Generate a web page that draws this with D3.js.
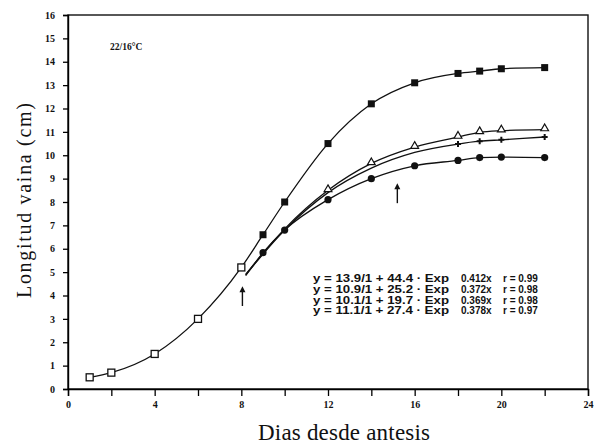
<!DOCTYPE html>
<html lang="es">
<head>
<meta charset="UTF-8">
<title>Longitud vaina</title>
<script src="https://d3js.org/d3.v7.min.js"></script>
<style>
  body { margin: 0; background: #fff; }
  svg { display: block; }
  .tick text { font-family: "Liberation Serif", serif; font-weight: bold; font-size: 10px; }
</style>
</head>
<body>
<svg id="chart" width="595" height="444"></svg>
<script>
// early shared points (open squares)
const earlyDays = [1, 2, 4, 6, 8];
const earlyLen = [0.5, 0.7, 1.5, 3.0, 5.2];

// filled squares
const sqDays = [9, 10, 12, 14, 16, 18, 19, 20, 22];
const sqLen = [6.6, 8.0, 10.5, 12.2, 13.1, 13.5, 13.6, 13.7, 13.75];

// filled circles (line starts just after day 8)
const circDays = [8.2, 9, 10, 12, 14, 16, 18, 19, 20, 22];
const circLen = [4.85, 5.83, 6.8, 8.1, 9.0, 9.55, 9.78, 9.9, 9.92, 9.9];

// open triangles
const triDays = [8.2, 10, 12, 14, 16, 18, 19, 20, 22];
const triLen = [4.9, 6.85, 8.5, 9.65, 10.35, 10.78, 10.98, 11.05, 11.1];

// small crosses
const crossDays = [8.2, 10, 12, 14, 16, 18, 19, 20, 22];
const crossLen = [4.88, 6.8, 8.4, 9.45, 10.12, 10.48, 10.6, 10.66, 10.78];

const arrowDays = [8.05, 15.2];
const arrowFrom = [3.55, 7.95];
const arrowTo = [4.4, 8.8];

const eqLeft = ["y = 13.9/1 + 44.4 · Exp", "y = 10.9/1 + 25.2 · Exp", "y = 10.1/1 + 19.7 · Exp", "y = 11.1/1 + 27.4 · Exp"];
const eqRate = ["0.412x", "0.372x", "0.369x", "0.378x"];
const eqR = ["r = 0.99", "r = 0.98", "r = 0.98", "r = 0.97"];

const xTicks = d3.range(0, 25, 2);
const yTicks = d3.range(0, 17, 1);

const svg = d3.select("#chart");
const x = d3.scaleLinear().domain([0, 24]).range([68, 588]);
const y = d3.scaleLinear().domain([0, 16]).range([389, 15]);

const zip = (a, b) => a.map((d, i) => [d, b[i]]);

// frame
svg.append("rect")
  .attr("x", x(0)).attr("y", y(16))
  .attr("width", x(24) - x(0)).attr("height", y(0) - y(16))
  .attr("fill", "none").attr("stroke", "#111").attr("stroke-width", 1.4);

// axes
svg.append("g")
  .attr("transform", `translate(0,${y(0)})`)
  .call(d3.axisBottom(x).tickValues(xTicks).tickSize(7).tickPadding(5)
    .tickFormat(d => d % 4 === 0 ? d : ""))
  .call(g => g.select(".domain").attr("stroke-width", 1.4))
  .call(g => g.selectAll(".tick line").attr("stroke-width", 1.3));

svg.append("g")
  .attr("transform", `translate(${x(0)},0)`)
  .call(d3.axisLeft(y).tickValues(yTicks).tickSize(5).tickPadding(8))
  .call(g => g.select(".domain").attr("stroke-width", 1.4))
  .call(g => g.selectAll(".tick line").attr("stroke-width", 1.3));

svg.selectAll(".tick text").attr("fill", "#111");

// curves
const line = d3.line().x(d => x(d[0])).y(d => y(d[1])).curve(d3.curveMonotoneX);
const curves = [
  zip(earlyDays.concat(sqDays), earlyLen.concat(sqLen)),
  zip(circDays, circLen),
  zip(triDays, triLen),
  zip(crossDays, crossLen)
];
svg.selectAll("path.curve").data(curves).join("path")
  .attr("class", "curve")
  .attr("d", line)
  .attr("fill", "none").attr("stroke", "#111").attr("stroke-width", 1.3);

// markers
svg.selectAll("rect.early").data(zip(earlyDays, earlyLen)).join("rect")
  .attr("class", "early")
  .attr("x", d => x(d[0]) - 3.5).attr("y", d => y(d[1]) - 3.5)
  .attr("width", 7).attr("height", 7)
  .attr("fill", "#fff").attr("stroke", "#111").attr("stroke-width", 1.3);

svg.selectAll("rect.sq").data(zip(sqDays, sqLen)).join("rect")
  .attr("class", "sq")
  .attr("x", d => x(d[0]) - 3.5).attr("y", d => y(d[1]) - 3.5)
  .attr("width", 7).attr("height", 7)
  .attr("fill", "#111");

svg.selectAll("circle.circ").data(zip(circDays, circLen).slice(1)).join("circle")
  .attr("class", "circ")
  .attr("cx", d => x(d[0])).attr("cy", d => y(d[1])).attr("r", 3.6)
  .attr("fill", "#111");

const tri = d3.symbol().type(d3.symbolTriangle).size(26);
svg.selectAll("path.tri").data(zip(triDays, triLen).slice(2)).join("path")
  .attr("class", "tri")
  .attr("d", tri)
  .attr("transform", d => `translate(${x(d[0])},${y(d[1]) - 1})`)
  .attr("fill", "#fff").attr("stroke", "#111").attr("stroke-width", 1.2);

const cross = d3.symbol().type(d3.symbolCross).size(20);
svg.selectAll("path.cross").data(zip(crossDays, crossLen).slice(5)).join("path")
  .attr("class", "cross")
  .attr("d", cross)
  .attr("transform", d => `translate(${x(d[0])},${y(d[1])})`)
  .attr("fill", "#111");

// arrows
arrowDays.forEach((d, i) => {
  const ax = x(d), y0 = y(arrowFrom[i]), y1 = y(arrowTo[i]);
  svg.append("line")
    .attr("x1", ax).attr("x2", ax).attr("y1", y0).attr("y2", y1 + 3)
    .attr("stroke", "#111").attr("stroke-width", 1.4);
  svg.append("path")
    .attr("d", `M${ax},${y1} L${ax - 3},${y1 + 6} L${ax + 3},${y1 + 6} Z`)
    .attr("fill", "#111");
});

// annotations
svg.append("text")
  .attr("x", 110).attr("y", 50)
  .attr("font-family", "Liberation Serif, serif").attr("font-weight", "bold")
  .attr("font-size", 9.5).attr("fill", "#111")
  .text("22/16°C");

const eq = svg.append("g")
  .attr("font-family", "Liberation Sans, sans-serif").attr("font-weight", "bold")
  .attr("font-size", 10).attr("fill", "#111");
eqLeft.forEach((t, i) => {
  const by = 282 + i * 10.8;
  eq.append("text").attr("x", 313).attr("y", by)
    .attr("textLength", 136).attr("lengthAdjust", "spacingAndGlyphs").text(t);
  eq.append("text").attr("x", 461).attr("y", by).text(eqRate[i]);
  eq.append("text").attr("x", 503).attr("y", by).text(eqR[i]);
});

// axis titles
svg.append("text")
  .attr("x", 258).attr("y", 440)
  .attr("font-family", "Liberation Serif, serif").attr("font-size", 23).attr("fill", "#111")
  .attr("textLength", 172).attr("lengthAdjust", "spacing")
  .text("Dias desde antesis");

svg.append("text")
  .attr("transform", "translate(31,298) rotate(-90)")
  .attr("font-family", "Liberation Serif, serif").attr("font-size", 20).attr("fill", "#111")
  .attr("textLength", 195).attr("lengthAdjust", "spacing")
  .text("Longitud vaina (cm)");
</script>
</body>
</html>
